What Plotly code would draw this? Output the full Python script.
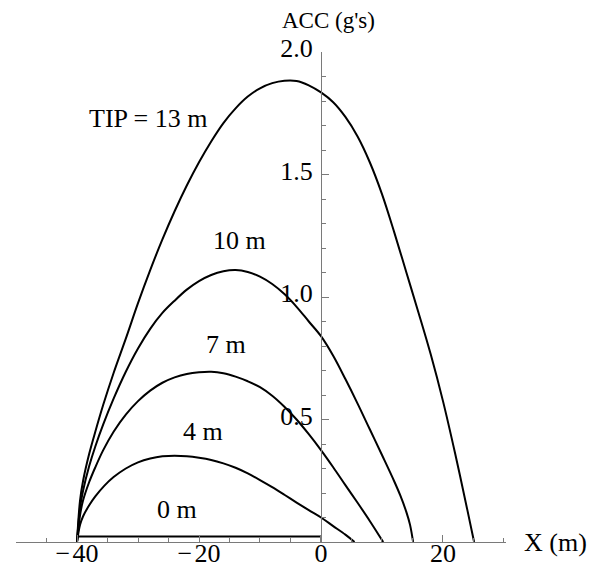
import plotly.graph_objects as go

# Acceleration (g's) versus position X (m) for several tip heights
tip_labels = ["0 m", "4 m", "7 m", "10 m", "TIP = 13 m"]

x_0m = [-40, 0]
acc_0m = [0.022, 0.022]

x_4m = [-40, -39.5, -39, -38, -37, -35.5, -34, -32, -30, -28, -26, -24, -22, -20, -18,
        -16, -14, -12, -10, -8, -6, -4, -2, 0, 2, 4, 5.5]
acc_4m = [0, 0.07, 0.105, 0.15, 0.186, 0.23, 0.265, 0.3, 0.325, 0.341, 0.35, 0.352, 0.35,
          0.344, 0.335, 0.321, 0.303, 0.28, 0.253, 0.224, 0.193, 0.161, 0.13, 0.1, 0.065,
          0.03, 0]

x_7m = [-40, -39.5, -39, -38, -37, -35.7, -34, -32, -30, -28, -26, -24, -22, -20, -18,
        -16, -14, -12, -10, -8, -6, -4, -2, 0, 2, 4, 6, 8, 10.2]
acc_7m = [0, 0.11, 0.17, 0.245, 0.305, 0.375, 0.45, 0.52, 0.575, 0.618, 0.65, 0.672, 0.686,
          0.693, 0.695, 0.689, 0.675, 0.656, 0.632, 0.597, 0.552, 0.5, 0.44, 0.375, 0.305,
          0.232, 0.16, 0.086, 0]

x_10m = [-40, -39.5, -39, -38, -37, -35.7, -34, -32, -30, -28, -26, -24, -22, -20, -18,
         -16, -14, -12, -10, -8, -6, -4, -2, 0, 2, 4, 6, 8, 10, 12, 13, 14, 14.6, 15.1]
acc_10m = [0, 0.14, 0.21, 0.31, 0.39, 0.48, 0.585, 0.695, 0.79, 0.87, 0.935, 0.985, 1.03,
           1.065, 1.09, 1.105, 1.11, 1.102, 1.083, 1.053, 1.012, 0.96, 0.9, 0.84, 0.76,
           0.665, 0.565, 0.46, 0.355, 0.248, 0.19, 0.122, 0.07, 0]

x_13m = [-40, -39.5, -39, -38, -37, -35.7, -34, -32, -30, -28, -26, -24, -22, -20, -18,
         -16, -14, -12, -10, -8, -6, -4, -2, 0, 2, 4, 6, 8, 10, 12, 14, 16, 18, 20, 22,
         24, 25.1]
acc_13m = [0, 0.17, 0.25, 0.36, 0.45, 0.56, 0.69, 0.83, 0.975, 1.11, 1.235, 1.35, 1.455,
           1.55, 1.635, 1.71, 1.77, 1.818, 1.852, 1.873, 1.883, 1.882, 1.864, 1.835, 1.795,
           1.735, 1.655, 1.55, 1.42, 1.265, 1.1, 0.935, 0.765, 0.575, 0.36, 0.13, 0]

# label anchor points (data coordinates)
label_x = [-23.6, -19.3, -15.5, -13.3, -28.3]
label_y = [0.131, 0.45, 0.808, 1.229, 1.73]

x_major = [-40, -20, 0, 20]
x_major_text = ["\u2212\u200a40", "\u2212\u200a20", "0", "20"]
x_minor = [-50, -45, -35, -30, -25, -15, -10, -5, 5, 10, 15, 25, 30]
y_major = [0.5, 1.0, 1.5, 2.0]
y_major_text = ["0.5", "1.0", "1.5", "2.0"]
y_minor = [0.1, 0.2, 0.3, 0.4, 0.6, 0.7, 0.8, 0.9, 1.1, 1.2, 1.3, 1.4, 1.6, 1.7, 1.8, 1.9]

FONT = "Liberation Serif"
FSIZE = 26
AXIS_COLOR = "#7a7a7a"

fig = go.Figure()
series = [(x_0m, acc_0m), (x_4m, acc_4m), (x_7m, acc_7m), (x_10m, acc_10m), (x_13m, acc_13m)]
for xs, ys in series:
    fig.add_trace(go.Scatter(
        x=xs, y=ys, mode="lines",
        line=dict(color="black", width=2, shape="spline", smoothing=1.0),
        showlegend=False, hoverinfo="skip", cliponaxis=False,
    ))

for txt, lx, ly in zip(tip_labels, label_x, label_y):
    fig.add_annotation(x=lx, y=ly, text=txt, showarrow=False,
                       font=dict(family=FONT, size=FSIZE, color="black"),
                       xanchor="center", yanchor="middle")

fig.add_annotation(x=1.3, y=1.0, xref="x", yref="paper", yshift=32, text="ACC (g's)",
                   showarrow=False, font=dict(family=FONT, size=23, color="black"),
                   xanchor="center", yanchor="middle")
fig.add_annotation(x=1.033, y=0, xref="paper", yref="y", text="X (m)",
                   showarrow=False, font=dict(family=FONT, size=FSIZE, color="black"),
                   xanchor="left", yanchor="middle")

x_lo, x_hi = -50, 30.33
y_pos = (0 - x_lo) / (x_hi - x_lo)

fig.update_layout(
    width=595, height=571,
    margin=dict(l=16, r=89, t=52, b=29, autoexpand=False),
    paper_bgcolor="white", plot_bgcolor="white",
    xaxis=dict(
        range=[x_lo, x_hi], showgrid=False, zeroline=False, automargin=False,
        showline=True, linecolor=AXIS_COLOR, linewidth=1,
        ticks="inside", ticklen=7, tickcolor=AXIS_COLOR, tickwidth=1,
        tickmode="array", tickvals=x_major, ticktext=x_major_text,
        tickfont=dict(family=FONT, size=FSIZE, color="black"),
        ticklabelstandoff=-12,
        minor=dict(tickmode="array", tickvals=x_minor, ticks="inside", ticklen=4,
                   tickcolor=AXIS_COLOR, tickwidth=1, showgrid=False),
    ),
    yaxis=dict(
        range=[0, 2.0], showgrid=False, zeroline=False, automargin=False,
        anchor="free", position=y_pos, side="left",
        showline=True, linecolor=AXIS_COLOR, linewidth=1,
        ticks="inside", ticklen=7, tickcolor=AXIS_COLOR, tickwidth=1,
        tickmode="array", tickvals=y_major, ticktext=y_major_text,
        tickfont=dict(family=FONT, size=FSIZE, color="black"),
        ticklabelstandoff=3, ticklabelshift=-4,
        minor=dict(tickmode="array", tickvals=y_minor, ticks="inside", ticklen=4,
                   tickcolor=AXIS_COLOR, tickwidth=1, showgrid=False),
    ),
)

fig.write_html("out.html")
